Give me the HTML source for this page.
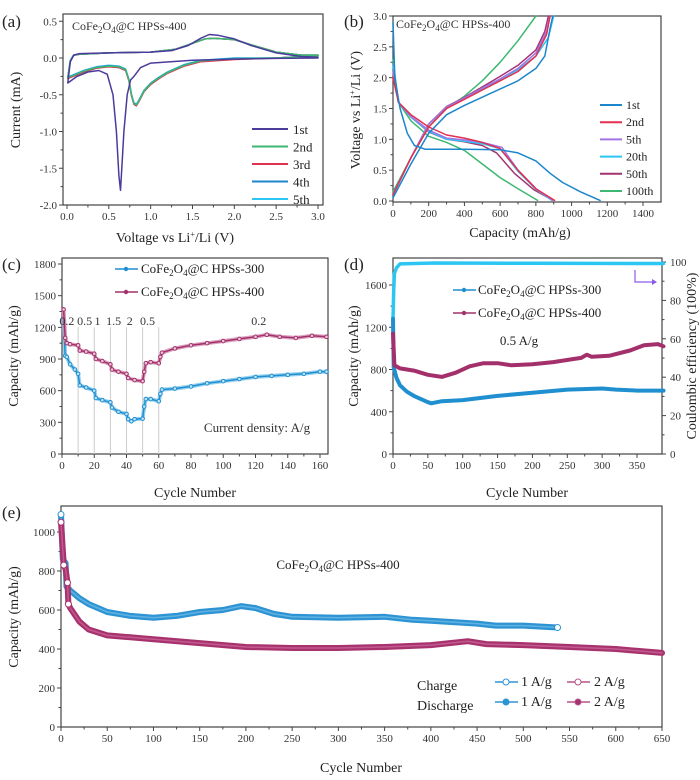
<!DOCTYPE html>
<html><head><meta charset="utf-8"><style>
html,body{margin:0;padding:0;background:#fff;}
svg{display:block;font-family:"Liberation Serif",serif;}
</style></head><body>
<svg id="fig" width="700" height="780" viewBox="0 0 700 780"></svg>
<script>
// ---------- DATA ----------
// (a) CV curves: voltage / current
const cv1V=[3.0,2.5,2.0,1.5,1.0,0.88,0.8,0.76,0.72,0.68,0.655,0.64,0.62,0.59,0.55,0.48,0.38,0.25,0.12,0.01,0.01,0.04,0.08,0.15,0.5,1.0,1.25,1.45,1.6,1.7,1.8,2.0,2.2,2.5,2.8,3.0];
const cv1I=[0.0,-0.005,-0.015,-0.03,-0.07,-0.13,-0.25,-0.3,-0.5,-1.0,-1.5,-1.8,-1.6,-1.0,-0.5,-0.22,-0.17,-0.19,-0.25,-0.34,-0.34,-0.05,0.04,0.06,0.07,0.08,0.1,0.17,0.27,0.32,0.31,0.26,0.17,0.07,0.02,0.01];
const cvNV=[3.0,2.5,2.0,1.6,1.4,1.2,1.1,1.0,0.92,0.86,0.83,0.8,0.77,0.74,0.7,0.62,0.5,0.35,0.2,0.01,0.01,0.04,0.08,0.15,0.5,1.0,1.3,1.5,1.65,1.75,2.0,2.2,2.5,2.8,3.0];
const cvNI=[0.03,0.0,-0.01,-0.04,-0.1,-0.2,-0.27,-0.35,-0.45,-0.58,-0.64,-0.62,-0.5,-0.3,-0.16,-0.12,-0.11,-0.13,-0.18,-0.27,-0.27,-0.04,0.04,0.05,0.07,0.08,0.12,0.2,0.26,0.27,0.25,0.18,0.08,0.04,0.04];
const cvNames=["1st","2nd","3rd","4th","5th"];
const cvColors=["#4b3b9b","#3db872","#e23050","#1c86cc","#2cc6f2"];
const cvShift=[0,0.0,-0.01,0.005,0.01];
const aXTicks=[0,0.5,1.0,1.5,2.0,2.5,3.0];
const aYTicks=[0.5,0,-0.5,-1.0,-1.5,-2.0];

// (b) charge/discharge: capacity / voltage
const bNames=["1st","2nd","5th","20th","50th","100th"];
const bColors=["#1c86cc","#e23050","#a374e6","#2cc6f2","#a33474","#3db872"];
const bDisCap=[
 [0,10,40,80,120,180,400,600,700,800,880,950,1050,1160],
 [0,30,100,200,300,400,500,600,700,800,905],
 [0,30,100,200,300,400,500,610,700,800,895],
 [0,30,100,200,300,400,500,600,700,800,890],
 [0,30,100,200,300,400,500,580,680,790,895],
 [0,30,100,200,300,400,500,600,700,810]];
const bDisV=[
 [2.9,2.0,1.5,1.1,0.9,0.84,0.84,0.83,0.78,0.65,0.45,0.3,0.15,0.01],
 [2.0,1.6,1.4,1.2,1.07,1.02,0.95,0.85,0.5,0.2,0.01],
 [2.1,1.6,1.37,1.15,1.02,0.99,0.95,0.87,0.5,0.2,0.01],
 [2.2,1.6,1.36,1.13,1.0,0.97,0.93,0.85,0.48,0.19,0.01],
 [2.2,1.6,1.36,1.12,1.0,0.96,0.9,0.78,0.45,0.18,0.01],
 [2.3,1.6,1.3,1.05,0.95,0.82,0.6,0.38,0.2,0.01]];
const bChCap=[
 [0,100,200,300,400,550,700,800,850,880,895],
 [0,100,200,300,400,500,600,700,800,860,880],
 [0,100,200,300,400,500,600,700,800,860,878],
 [0,100,200,300,400,500,600,700,800,870,900],
 [0,100,200,300,400,500,600,700,800,850,870],
 [0,100,200,300,400,500,600,700,800]];
const bChV=[
 [0.05,0.6,1.1,1.4,1.55,1.75,1.95,2.15,2.35,2.8,3.0],
 [0.1,0.7,1.2,1.5,1.65,1.8,1.95,2.1,2.35,2.7,3.0],
 [0.1,0.7,1.25,1.52,1.67,1.83,1.98,2.15,2.4,2.75,3.0],
 [0.1,0.7,1.25,1.52,1.67,1.82,1.97,2.13,2.35,2.65,3.0],
 [0.1,0.7,1.25,1.53,1.68,1.85,2.02,2.2,2.45,2.75,3.0],
 [0.15,0.7,1.2,1.5,1.7,1.95,2.25,2.6,3.0]];
const bXTicks=[0,200,400,600,800,1000,1200,1400];
const bYTicks=[0,0.5,1.0,1.5,2.0,2.5,3.0];

// (c) rate performance
const cCyc300=[1,2,3,5,8,10,11,15,20,21,25,30,31,35,40,41,43,45,50,51,52,55,60,61,62,70,80,90,100,110,120,130,140,150,160,164];
const cCap300=[1270,930,920,850,800,760,650,630,600,530,510,490,440,400,380,330,310,330,335,450,520,520,500,570,610,620,640,670,690,710,730,740,750,760,780,780];
const cCyc400=[1,2,3,5,10,11,15,20,21,25,30,31,35,40,41,45,50,51,52,55,60,61,62,70,80,90,100,110,120,127,135,145,155,164];
const cCap400=[1370,1100,1050,1040,1030,980,970,950,900,880,850,800,780,760,720,700,690,780,860,870,860,920,960,1000,1030,1050,1070,1090,1110,1130,1110,1100,1120,1110];
const cRates=["0.2","0.5","1","1.5","2","0.5","0.2"];
const cRateCyc=[3,14,22,32,42,53,122];
const cDividers=[10,20,30,40,50,60];
const cXTicks=[0,20,40,60,80,100,120,140,160];
const cYTicks=[0,300,600,900,1200,1500,1800];

// (d) long cycling 0.5 A/g
const dCyc300=[0,1,5,10,20,30,40,50,55,70,100,150,200,250,300,320,350,388];
const dCap300=[1280,820,720,650,590,550,520,490,480,500,510,550,580,610,620,610,600,600];
const dCyc400=[0,2,10,30,50,70,90,110,130,150,170,200,230,260,270,278,285,310,340,360,380,388];
const dCap400=[1140,840,810,790,750,730,770,830,860,860,840,850,870,900,910,940,920,930,980,1030,1040,1020];
const dCECyc=[0,1,2,5,10,60,200,388];
const dCE=[70,85,94,97,99,99.5,99.3,99.2];
const dXTicks=[0,50,100,150,200,250,300,350];
const dYTicks=[0,400,800,1200,1600];
const dY2Ticks=[0,20,40,60,80,100];

// (e) long cycling 1 & 2 A/g
const eCyc1=[0,2,5,6,10,20,30,50,75,100,125,150,175,195,210,230,250,300,350,380,400,450,470,500,537];
const eCap1=[1090,860,840,720,700,660,630,590,570,560,570,590,600,620,610,580,565,560,565,550,545,530,520,520,510];
const eCyc2=[0,3,5,7,8,10,20,30,50,75,100,150,200,250,300,350,400,440,460,500,550,600,650];
const eCap2=[1050,830,810,740,630,610,540,500,470,460,450,430,410,405,405,410,420,440,425,420,410,400,380];
const eXTicks=[0,50,100,150,200,250,300,350,400,450,500,550,600,650];
const eYTicks=[0,200,400,600,800,1000];

// ---------- DRAWING ----------
const svg=document.getElementById('fig');
const NS='http://www.w3.org/2000/svg';
function mk(tag,attrs,name,parent){
  const el=document.createElementNS(NS,tag);
  for(const k in attrs) el.setAttribute(k,attrs[k]);
  
  
  (parent||svg).appendChild(el);
  return el;
}
function txt(x,y,s,name,o){
  o=o||{};
  const t=mk('text',{x:x,y:y,'font-size':o.size||11,fill:o.fill||'#333','text-anchor':o.anchor||'middle'},name);
  if(o.rot) t.setAttribute('transform','rotate(-90 '+x+' '+y+')');
  if(o.html) t.innerHTML=s; else t.textContent=s;
  return t;
}
const COFE='CoFe<tspan dy="3" font-size="9">2</tspan><tspan dy="-3">O</tspan><tspan dy="3" font-size="9">4</tspan><tspan dy="-3">@C HPSs-';
function lin(d0,d1,r0,r1){return v=>r0+(v-d0)*(r1-r0)/(d1-d0);}
function frame(x0,y0,x1,y1,name){mk('rect',{x:x0,y:y0,width:x1-x0,height:y1-y0,fill:'none',stroke:'#444','stroke-width':1.2},name);}
function xTicks(ticks,sx,y,name,fmt,minor){
  ticks.forEach((t,i)=>{
    mk('line',{x1:sx(t),x2:sx(t),y1:y,y2:y+4,stroke:'#444'},name+'-tick');
    txt(sx(t),y+15,fmt?fmt(t):String(t),name+'-label');
    if(minor && i<ticks.length-1){const m=(t+ticks[i+1])/2;mk('line',{x1:sx(m),x2:sx(m),y1:y,y2:y+2.5,stroke:'#444'},name+'-minor');}
  });
}
function yTicks(ticks,sy,x,name,fmt,right){
  ticks.forEach((t,i)=>{
    mk('line',{x1:x,x2:right?x+4:x-4,y1:sy(t),y2:sy(t),stroke:'#444'},name+'-tick');
    txt(right?x+8:x-6,sy(t)+4,fmt?fmt(t):String(t),name+'-label',{anchor:right?'start':'end'});
    if(i<ticks.length-1){const m=(t+ticks[i+1])/2;mk('line',{x1:x,x2:right?x+2.5:x-2.5,y1:sy(m),y2:sy(m),stroke:'#444'},name+'-minor');}
  });
}
function path(xs,ys,sx,sy,name,attrs){
  let d='';xs.forEach((v,i)=>{d+=(i?'L':'M')+sx(v).toFixed(1)+' '+sy(ys[i]).toFixed(1);});
  const a=Object.assign({d:d,fill:'none','stroke-linejoin':'round','stroke-linecap':'round'},attrs);
  return mk('path',a,name);
}
function dots(xs,ys,sx,sy,name,color,r,fill){
  xs.forEach((v,i)=>{mk('circle',{cx:sx(v),cy:sy(ys[i]),r:r,fill:fill||color,stroke:color,'stroke-width':1},name);});
}
const f1=v=>v.toFixed(1);

// ===== Panel a =====
(function(){
  const sx=lin(0,3,67,318), sy=lin(0,-2,58,205);
  txt(2,27,'(a)','panel-a-label',{size:17,anchor:'start',fill:'#222'});
  frame(63,14,323,205,'panel-a-frame');
  xTicks(aXTicks,sx,205,'a-x',f1,true);
  yTicks(aYTicks,sy,63,'a-y',f1);
  txt(175,242,'Voltage vs Li<tspan dy="-5" font-size="8">+</tspan><tspan dy="5">/Li (V)</tspan>','a-x-axis-title',{size:14,html:true,fill:'#222'});
  txt(20,110,'Current (mA)','a-y-axis-title',{size:14,rot:true,fill:'#222'});
  for(let k=4;k>=0;k--){
    const V=k===0?cv1V:cvNV, I=k===0?cv1I:cvNI;
    path(V,I.map(v=>v+cvShift[k]*(v<0?1:0)),sx,sy,'cv-'+cvNames[k],{stroke:cvColors[k],'stroke-width':1.5});
  }
  txt(72,30,COFE+'400</tspan>','a-annotation',{size:12,anchor:'start',html:true,fill:'#333'});
  cvNames.forEach((n,i)=>{
    const y=129+i*17.5;
    mk('line',{x1:252,x2:288,y1:y,y2:y,stroke:cvColors[i],'stroke-width':2},'a-legend-line');
    txt(293,y+5,n,'a-legend-entry',{size:13,anchor:'start',fill:'#222'});
  });
})();

// ===== Panel b =====
(function(){
  const sx=lin(0,1400,393,643), sy=lin(0,3,201,16);
  txt(344,27,'(b)','panel-b-label',{size:17,anchor:'start',fill:'#222'});
  frame(393,16,661,202,'panel-b-frame');
  xTicks(bXTicks,sx,202,'b-x',null,true);
  yTicks(bYTicks,sy,393,'b-y',f1);
  txt(520,237,'Capacity (mAh/g)','b-x-axis-title',{size:14,fill:'#222'});
  txt(360,110,'Voltage vs Li<tspan dy="-5" font-size="8">+</tspan><tspan dy="5">/Li (V)</tspan>','b-y-axis-title',{size:14,rot:true,html:true,fill:'#222'});
  for(let k=5;k>=0;k--){
    path(bDisCap[k],bDisV[k],sx,sy,'discharge-'+bNames[k],{stroke:bColors[k],'stroke-width':1.5});
    path(bChCap[k],bChV[k],sx,sy,'charge-'+bNames[k],{stroke:bColors[k],'stroke-width':1.5});
  }
  txt(396,28,COFE+'400</tspan>','b-annotation',{size:12,anchor:'start',html:true,fill:'#333'});
  bNames.forEach((n,i)=>{
    const y=105+i*17.2;
    mk('line',{x1:600,x2:622,y1:y,y2:y,stroke:bColors[i],'stroke-width':2},'b-legend-line');
    txt(626,y+4,n,'b-legend-entry',{size:12,anchor:'start',fill:'#222'});
  });
})();

// ===== Panel c =====
(function(){
  const sx=lin(0,160,62,320), sy=lin(0,1800,454,264);
  txt(2,270,'(c)','panel-c-label',{size:17,anchor:'start',fill:'#222'});
  frame(62,258,328,454,'panel-c-frame');
  cDividers.forEach(c=>mk('line',{x1:sx(c),x2:sx(c),y1:454,y2:sy(1200),stroke:'#ccc','stroke-width':1},'c-rate-divider'));
  xTicks(cXTicks,sx,454,'c-x',null,true);
  yTicks(cYTicks,sy,62,'c-y');
  txt(195,497,'Cycle Number','c-x-axis-title',{size:14,fill:'#222'});
  txt(18,356,'Capacity (mAh/g)','c-y-axis-title',{size:14,rot:true,fill:'#222'});
  path(cCyc300,cCap300,sx,sy,'c-series-300',{stroke:'#7cc4ea','stroke-width':4,opacity:0.8});
  path(cCyc300,cCap300,sx,sy,'c-series-300-line',{stroke:'#1f8fd0','stroke-width':1.5});
  dots(cCyc300,cCap300,sx,sy,'c-point-300','#1f8fd0',1.8,'#bfe3f6');
  path(cCyc400,cCap400,sx,sy,'c-series-400',{stroke:'#d28cb0','stroke-width':4,opacity:0.8});
  path(cCyc400,cCap400,sx,sy,'c-series-400-line',{stroke:'#a3306b','stroke-width':1.5});
  dots(cCyc400,cCap400,sx,sy,'c-point-400','#a3306b',1.8,'#eac6d8');
  cRates.forEach((r,i)=>txt(sx(cRateCyc[i]),325,r,'c-rate-label',{size:12,fill:'#333'}));
  txt(257,432,'Current density: A/g','c-annotation',{size:13,fill:'#333'});
  [['300','#1f8fd0',273],['400','#a3306b',296]].forEach(l=>{
    mk('line',{x1:115,x2:138,y1:l[2]-4,y2:l[2]-4,stroke:l[1],'stroke-width':1.5},'c-legend-line');
    mk('circle',{cx:126,cy:l[2]-4,r:2.2,fill:l[1]},'c-legend-marker');
    txt(141,l[2],COFE+l[0]+'</tspan>','c-legend-entry',{size:13,anchor:'start',html:true,fill:'#222'});
  });
})();

// ===== Panel d =====
(function(){
  const sx=lin(0,350,393,637), sy=lin(0,1600,454,285), sy2=lin(0,100,454,262);
  txt(344,270,'(d)','panel-d-label',{size:17,anchor:'start',fill:'#222'});
  frame(393,258,662,454,'panel-d-frame');
  xTicks(dXTicks,sx,454,'d-x',null,true);
  yTicks(dYTicks,sy,393,'d-y');
  yTicks(dY2Ticks,sy2,662,'d-y2',null,true);
  txt(527,497,'Cycle Number','d-x-axis-title',{size:14,fill:'#222'});
  txt(358,356,'Capacity (mAh/g)','d-y-axis-title',{size:14,rot:true,fill:'#222'});
  mk('text',{x:696,y:356,'font-size':14,fill:'#222','text-anchor':'middle',transform:'rotate(-90 696 356)'},'d-y2-axis-title').textContent='Coulombic efficiency (100%)';
  path(dCECyc,dCE,sx,sy2,'d-coulombic-efficiency',{stroke:'#2cc6f2','stroke-width':3.5});
  path(dCyc300,dCap300,sx,sy,'d-series-300',{stroke:'#1f8fd0','stroke-width':4});
  path(dCyc400,dCap400,sx,sy,'d-series-400',{stroke:'#a3306b','stroke-width':4});
  txt(519,345,'0.5 A/g','d-annotation',{size:13,fill:'#222'});
  mk('path',{d:'M635 270 L635 282 L652 282',fill:'none',stroke:'#8a5ce8','stroke-width':1.2},'d-axis-arrow');
  mk('path',{d:'M652 279 L657 282 L652 285 Z',fill:'#8a5ce8'},'d-axis-arrow-head');
  [['300','#1f8fd0',294],['400','#a3306b',317]].forEach(l=>{
    mk('line',{x1:453,x2:476,y1:l[2]-4,y2:l[2]-4,stroke:l[1],'stroke-width':1.5},'d-legend-line');
    mk('circle',{cx:464,cy:l[2]-4,r:2.2,fill:l[1]},'d-legend-marker');
    txt(478,l[2],COFE+l[0]+'</tspan>','d-legend-entry',{size:13,anchor:'start',html:true,fill:'#222'});
  });
})();

// ===== Panel e =====
(function(){
  const sx=lin(0,650,61,662), sy=lin(0,1000,727,532);
  txt(2,518,'(e)','panel-e-label',{size:17,anchor:'start',fill:'#222'});
  frame(61,506,662,727,'panel-e-frame');
  xTicks(eXTicks,sx,727,'e-x',null,true);
  yTicks(eYTicks,sy,61,'e-y');
  txt(361,772,'Cycle Number','e-x-axis-title',{size:14,fill:'#222'});
  txt(18,617,'Capacity (mAh/g)','e-y-axis-title',{size:14,rot:true,fill:'#222'});
  path(eCyc1,eCap1,sx,sy,'e-series-1Ag',{stroke:'#2e93d3','stroke-width':6});
  path(eCyc1,eCap1,sx,sy,'e-series-1Ag-core',{stroke:'#5fb3e3','stroke-width':1.5});
  dots([eCyc1[0],eCyc1[eCyc1.length-1]],[eCap1[0],eCap1[eCap1.length-1]],sx,sy,'e-endpoint-1Ag','#2e93d3',3,'#fff');
  path(eCyc2,eCap2,sx,sy,'e-series-2Ag',{stroke:'#a8326e','stroke-width':6});
  path(eCyc2,eCap2,sx,sy,'e-series-2Ag-core',{stroke:'#c25a8e','stroke-width':1.5});
  dots([eCyc2[0],eCyc2[1],eCyc2[3],eCyc2[4]],[eCap2[0],eCap2[1],eCap2[3],eCap2[4]],sx,sy,'e-early-2Ag','#a8326e',3,'#fff');
  txt(338,569,COFE+'400</tspan>','e-annotation',{size:13,html:true,fill:'#222'});
  txt(417,690,'Charge','e-legend-charge',{size:14,anchor:'start',fill:'#222'});
  txt(417,710,'Discharge','e-legend-discharge',{size:14,anchor:'start',fill:'#222'});
  [[686,'#fff'],[706,null]].forEach((r,j)=>{
    mk('line',{x1:495,x2:518,y1:r[0]-4,y2:r[0]-4,stroke:'#2e93d3','stroke-width':1.5},'e-legend-line');
    mk('circle',{cx:506,cy:r[0]-4,r:3,fill:r[1]||'#2e93d3',stroke:'#2e93d3'},'e-legend-marker');
    txt(521,r[0],'1 A/g','e-legend-entry',{size:14,anchor:'start',fill:'#222'});
    mk('line',{x1:567,x2:590,y1:r[0]-4,y2:r[0]-4,stroke:'#b5548a','stroke-width':1.5},'e-legend-line');
    mk('circle',{cx:578,cy:r[0]-4,r:3,fill:r[1]||'#a8326e',stroke:'#b5548a'},'e-legend-marker');
    txt(594,r[0],'2 A/g','e-legend-entry',{size:14,anchor:'start',fill:'#222'});
  });
})();
</script>
</body></html>
